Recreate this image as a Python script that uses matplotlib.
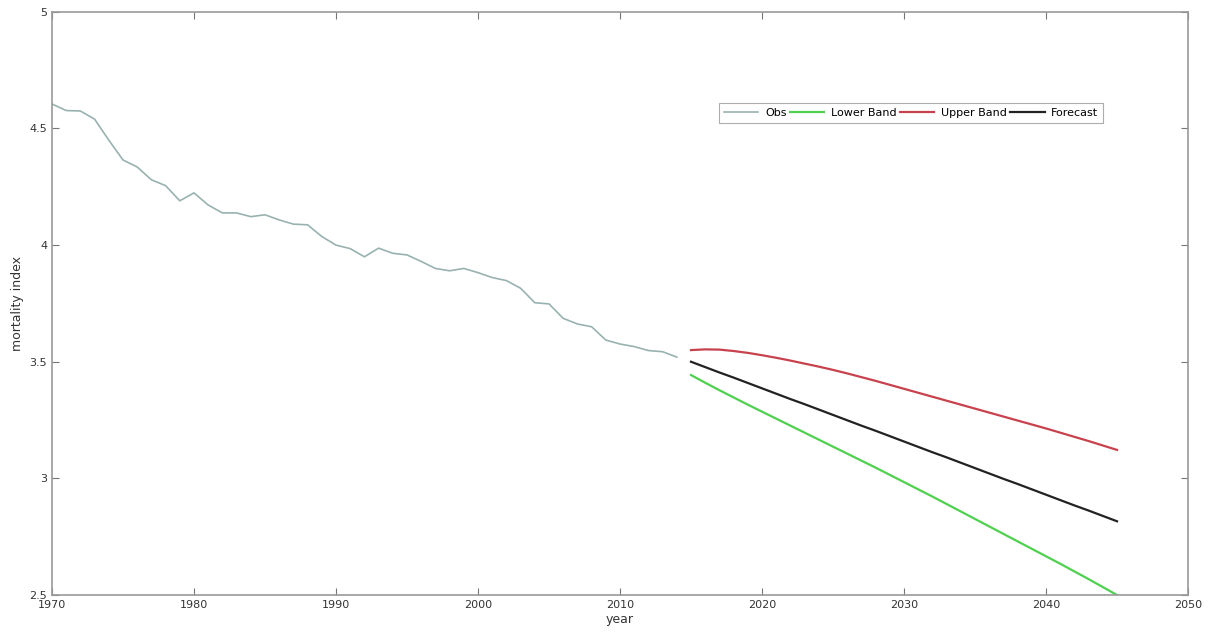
import matplotlib
matplotlib.use("Agg")
import matplotlib.pyplot as plt
from matplotlib.ticker import FormatStrFormatter

obs_years = list(range(1970, 2015))
obs_values = [4.605, 4.577, 4.575, 4.540, 4.450, 4.365, 4.335, 4.280, 4.255, 4.190,
              4.224, 4.172, 4.138, 4.138, 4.122, 4.130, 4.108, 4.090, 4.087, 4.037,
              4.000, 3.985, 3.950, 3.987, 3.965, 3.958, 3.930, 3.900, 3.890, 3.900,
              3.882, 3.861, 3.848, 3.815, 3.753, 3.748, 3.686, 3.662, 3.650, 3.593,
              3.576, 3.565, 3.548, 3.543, 3.520]

fc_years = list(range(2015, 2046))
lower_band = [3.443, 3.410, 3.378, 3.347, 3.316, 3.286, 3.256, 3.226, 3.196, 3.166,
              3.136, 3.106, 3.076, 3.046, 3.015, 2.984, 2.953, 2.922, 2.890, 2.858,
              2.826, 2.794, 2.762, 2.730, 2.698, 2.666, 2.634, 2.601, 2.568, 2.534,
              2.500]
upper_band = [3.550, 3.553, 3.552, 3.546, 3.538, 3.528, 3.517, 3.505, 3.492, 3.479,
              3.465, 3.450, 3.434, 3.418, 3.401, 3.384, 3.367, 3.350, 3.333, 3.316,
              3.299, 3.282, 3.265, 3.248, 3.231, 3.214, 3.196, 3.178, 3.160, 3.141,
              3.122]
forecast = [3.500, 3.477, 3.454, 3.432, 3.409, 3.386, 3.363, 3.340, 3.318, 3.295,
            3.272, 3.249, 3.226, 3.204, 3.181, 3.158, 3.135, 3.112, 3.090, 3.067,
            3.044, 3.021, 2.998, 2.976, 2.953, 2.930, 2.907, 2.884, 2.862, 2.839,
            2.816]

fig = plt.figure(figsize=(12.15, 6.38), dpi=100)
ax = fig.add_axes([0.0428, 0.0674, 0.935, 0.914])

ax.plot(obs_years, obs_values, color="#98b2b0", lw=1.2, label="Obs")
ax.plot(fc_years, lower_band, color="#4fd04f", lw=1.6, label="Lower Band")
ax.plot(fc_years, upper_band, color="#c8424e", lw=1.6, label="Upper Band")
ax.plot(fc_years, forecast, color="#222222", lw=1.6, label="Forecast")

ax.set_xlim(1970, 2050)
ax.set_ylim(2.5, 5)
ax.set_xticks(range(1970, 2051, 10))
ax.set_yticks([2.5, 3, 3.5, 4, 4.5, 5])
ax.yaxis.set_major_formatter(FormatStrFormatter("%g"))
ax.tick_params(direction="in", top=True, right=True, length=5, width=0.8,
               color="#777777", labelsize=8, labelcolor="#333333")
for s in ax.spines.values():
    s.set_color("#999999")
    s.set_linewidth(1.2)

ax.set_xlabel("year", fontsize=9, color="#333333", labelpad=2)
ax.set_ylabel("mortality index", fontsize=9, color="#333333", labelpad=4)

leg = ax.legend(loc="upper left", bbox_to_anchor=(0.587, 0.844), ncol=4,
                fontsize=8, frameon=True, fancybox=False, handlelength=3.1,
                columnspacing=0.3, handletextpad=0.6, borderpad=0.45,
                borderaxespad=0)
leg.get_frame().set_edgecolor("#999999")
leg.get_frame().set_linewidth(0.8)

fig.savefig("out.png", dpi=100)
